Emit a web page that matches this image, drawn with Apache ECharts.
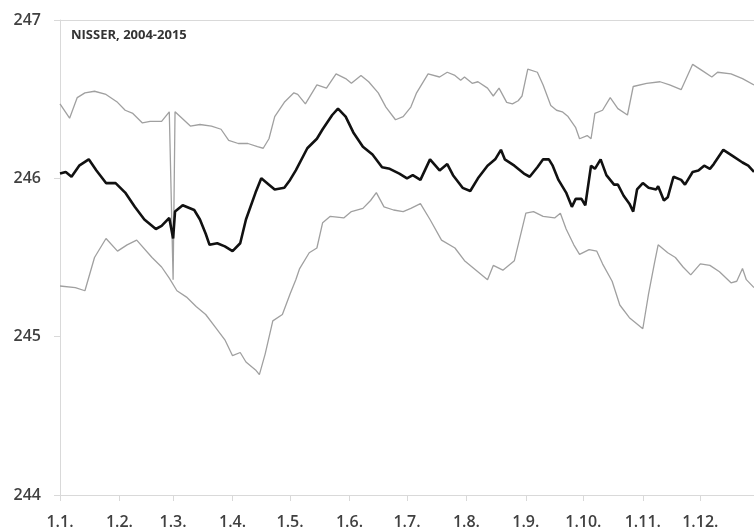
<!DOCTYPE html>
<html>
<head>
<meta charset="utf-8">
<title>NISSER, 2004-2015</title>
<script src="https://cdn.jsdelivr.net/npm/echarts@6/dist/echarts.min.js"></script>
<style>
	html, body { margin: 0; padding: 0; background: #fff; }
	#e_chart_1 { width: 754px; height: 532px; }
</style>
</head>
<body>
<div id="e_chart_1"></div>
<script>
"use strict";

/*****Data start*****/
// day of year (1.1. = 0), 59 = 29.2.
var monthDays = [0, 31, 59, 90, 120, 151, 181, 212, 243, 273, 304, 334];
var monthLabels = ['1.1.', '1.2.', '1.3.', '1.4.', '1.5.', '1.6.', '1.7.', '1.8.', '1.9.', '1.10.', '1.11.', '1.12.'];
var yTicks = [244, 245, 246, 247];

var maxDays = [0, 5, 9, 13, 18, 24, 30, 34, 38, 43, 47, 53, 57, 58, 59, 60, 61, 68, 73, 79, 84, 88, 93, 98, 103, 106, 109, 112, 117, 122,
	124, 128, 134, 139, 144, 149, 152, 157, 161, 166, 170, 175, 179, 183, 186, 192, 198, 202, 206, 209, 211, 215, 218, 223, 226, 229, 233, 236, 239, 241,
	244, 249, 252, 256, 259, 262, 265, 269, 271, 275, 277, 279, 283, 287, 291, 296, 299, 306, 313, 318, 324, 330, 335, 340, 343, 350, 356, 362];
var maxVals = [246.47, 246.38, 246.51, 246.54, 246.55, 246.53, 246.48, 246.43, 246.41, 246.35, 246.36, 246.36, 246.42, 246.43, 245.36, 246.42, 246.41, 246.33, 246.34, 246.33, 246.31, 246.24, 246.22, 246.22, 246.20, 246.19, 246.25, 246.39, 246.48, 246.54,
	246.53, 246.47, 246.59, 246.57, 246.66, 246.63, 246.60, 246.65, 246.61, 246.54, 246.45, 246.37, 246.39, 246.45, 246.54, 246.66, 246.64, 246.67, 246.65, 246.62, 246.64, 246.60, 246.61, 246.57, 246.52, 246.57, 246.48, 246.47, 246.49, 246.52,
	246.69, 246.67, 246.59, 246.46, 246.43, 246.42, 246.39, 246.32, 246.25, 246.27, 246.25, 246.41, 246.43, 246.51, 246.44, 246.40, 246.58, 246.60, 246.61, 246.59, 246.56, 246.72, 246.68, 246.64, 246.67, 246.66, 246.63, 246.59];

var meanDays = [0, 3, 6, 10, 15, 19, 24, 29, 34, 39, 44, 50, 53, 57, 58, 59, 60, 64, 70, 73, 76, 78, 82, 86, 90, 94, 97, 102, 105, 109,
	112, 117, 120, 123, 129, 134, 137, 142, 145, 149, 153, 158, 163, 168, 172, 177, 181, 184, 188, 193, 198, 202, 205, 210, 214, 218, 223, 227, 230, 232,
	237, 242, 245, 249, 252, 255, 257, 260, 264, 267, 269, 272, 274, 277, 279, 282, 285, 289, 291, 294, 297, 299, 301, 304, 307, 311, 312, 315, 317, 320,
	324, 326, 330, 333, 336, 339, 341, 346, 351, 356, 359, 362];
var meanVals = [246.03, 246.04, 246.01, 246.08, 246.12, 246.05, 245.97, 245.97, 245.91, 245.82, 245.74, 245.68, 245.70, 245.75, 245.76, 245.62, 245.79, 245.83, 245.80, 245.74, 245.65, 245.58, 245.59, 245.57, 245.54, 245.59, 245.74, 245.91, 246.00, 245.96,
	245.93, 245.94, 245.99, 246.05, 246.19, 246.25, 246.31, 246.40, 246.44, 246.39, 246.29, 246.20, 246.15, 246.07, 246.06, 246.03, 246.00, 246.02, 245.99, 246.12, 246.05, 246.09, 246.02, 245.94, 245.92, 246.00, 246.08, 246.12, 246.18, 246.12,
	246.08, 246.03, 246.01, 246.07, 246.12, 246.12, 246.08, 245.99, 245.91, 245.82, 245.87, 245.87, 245.83, 246.08, 246.06, 246.12, 246.02, 245.96, 245.96, 245.89, 245.84, 245.79, 245.93, 245.97, 245.94, 245.93, 245.95, 245.86, 245.88, 246.01,
	245.99, 245.96, 246.04, 246.05, 246.08, 246.06, 246.09, 246.18, 246.14, 246.10, 246.08, 246.04];

var minDays = [0, 8, 13, 18, 24, 30, 35, 40, 48, 53, 57, 61, 66, 71, 76, 81, 86, 90, 94, 97, 102, 104, 107, 111, 116, 120, 123, 125, 130, 134,
	137, 141, 148, 152, 158, 162, 165, 169, 174, 179, 183, 188, 193, 199, 206, 211, 217, 223, 226, 231, 237, 240, 243, 247, 252, 258, 261, 264, 268, 271,
	276, 280, 283, 288, 292, 297, 301, 304, 307, 310, 312, 317, 321, 325, 329, 334, 339, 344, 350, 353, 356, 358, 362];
var minVals = [245.32, 245.31, 245.29, 245.50, 245.62, 245.54, 245.58, 245.61, 245.50, 245.44, 245.37, 245.29, 245.25, 245.19, 245.14, 245.06, 244.98, 244.88, 244.90, 244.84, 244.79, 244.76, 244.89, 245.10, 245.14, 245.27, 245.36, 245.43, 245.53, 245.56,
	245.72, 245.76, 245.75, 245.79, 245.81, 245.86, 245.91, 245.82, 245.80, 245.79, 245.81, 245.84, 245.74, 245.61, 245.56, 245.48, 245.42, 245.36, 245.45, 245.42, 245.48, 245.63, 245.78, 245.79, 245.76, 245.75, 245.78, 245.68, 245.58, 245.52,
	245.55, 245.54, 245.46, 245.35, 245.20, 245.12, 245.08, 245.05, 245.27, 245.46, 245.58, 245.53, 245.50, 245.44, 245.39, 245.46, 245.45, 245.41, 245.34, 245.35, 245.43, 245.36, 245.31];
/*****Data end*****/

var pairs = function(days, vals) {
	return days.map(function(d, i) { return [d, vals[i]]; });
};

/*****E-Charts function start*****/
var eChart_1 = echarts.init(document.getElementById('e_chart_1'));
var labelFont = {
	color: '#404040',
	fontFamily: "'Open Sans', sans-serif",
	fontSize: 16,
	fontWeight: 600
};
var option = {
	animation: false,
	backgroundColor: '#fff',
	title: {
		text: 'NISSER, 2004-2015',
		left: 71,
		top: 29,
		padding: 0,
		textStyle: {
			color: '#333',
			fontFamily: "'Open Sans', sans-serif",
			fontSize: 13,
			fontWeight: 'bold'
		}
	},
	grid: {
		left: 60,
		right: 0,
		top: 20,
		bottom: 37
	},
	xAxis: [{
		type: 'value',
		min: 0,
		max: 362,
		axisLine: { show: true, lineStyle: { color: '#d9d9d9', width: 1 } },
		axisTick: {
			show: true,
			length: 6,
			customValues: monthDays,
			lineStyle: { color: '#d9d9d9' }
		},
		axisLabel: Object.assign({
			margin: 19,
			customValues: monthDays,
			formatter: function(v) {
				var i = monthDays.indexOf(v);
				return i < 0 ? '' : monthLabels[i];
			}
		}, labelFont),
		splitLine: { show: false }
	}, {
		type: 'value',
		position: 'top',
		min: 0,
		max: 362,
		axisLine: { show: true, lineStyle: { color: '#d9d9d9', width: 1 } },
		axisTick: { show: false },
		axisLabel: { show: false },
		splitLine: { show: false }
	}],
	yAxis: {
		type: 'value',
		min: yTicks[0],
		max: yTicks[yTicks.length - 1],
		interval: 1,
		axisLine: { show: true, lineStyle: { color: '#d9d9d9', width: 1 } },
		axisTick: { show: true, length: 6, lineStyle: { color: '#d9d9d9' } },
		axisLabel: Object.assign({ margin: 19 }, labelFont),
		splitLine: { show: false }
	},
	series: [
		{
			name: 'max',
			type: 'line',
			showSymbol: false,
			lineStyle: { color: '#a0a0a0', width: 1.3 },
			data: pairs(maxDays, maxVals)
		},
		{
			name: 'min',
			type: 'line',
			showSymbol: false,
			lineStyle: { color: '#a0a0a0', width: 1.3 },
			data: pairs(minDays, minVals)
		},
		{
			name: 'mean',
			type: 'line',
			showSymbol: false,
			lineStyle: { color: '#111', width: 2.6 },
			data: pairs(meanDays, meanVals)
		}
	]
};
eChart_1.setOption(option);
/*****E-Charts function end*****/
</script>
</body>
</html>
